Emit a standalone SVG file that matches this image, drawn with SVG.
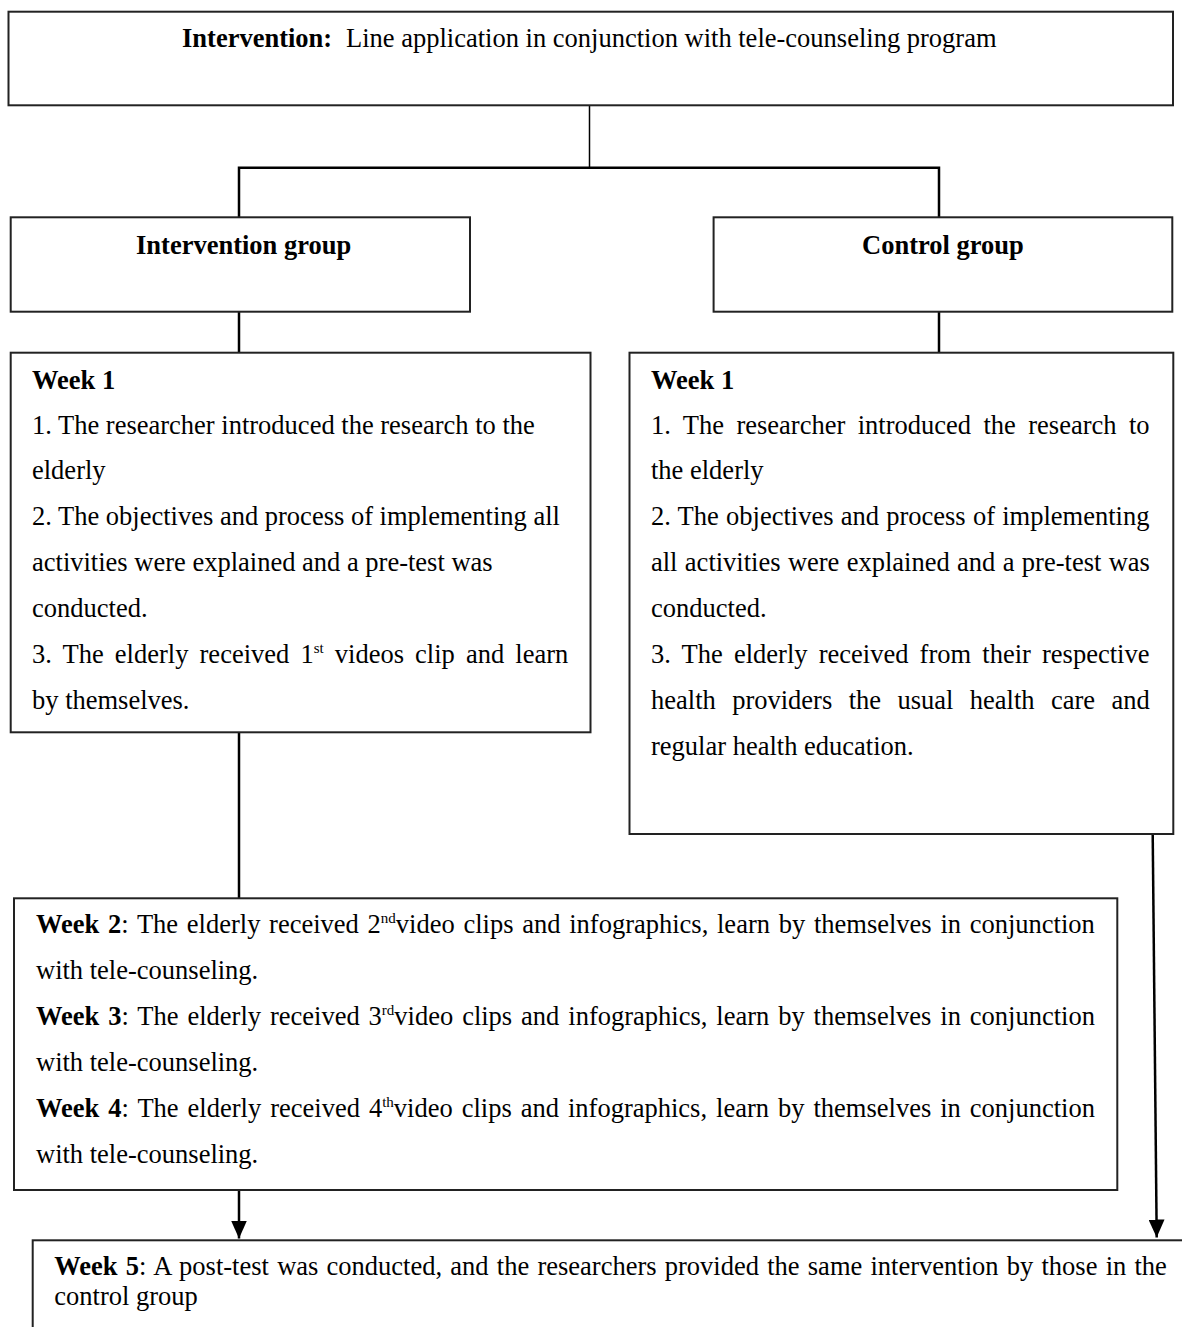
<svg xmlns="http://www.w3.org/2000/svg" width="1182" height="1327" viewBox="0 0 1182 1327">
<style>
.box{fill:#fff;stroke:#222;stroke-width:2}
.c{fill:none;stroke:#000;stroke-width:2.5}
.t{font-family:"Liberation Serif","Times New Roman",serif;font-size:26.5px;fill:#000}
.b{font-weight:bold}
.sup{font-size:15px}
</style>
<defs>
<marker id="arr" markerUnits="userSpaceOnUse" markerWidth="18" markerHeight="16" refX="18" refY="8" orient="auto">
<path d="M0,0 L18,8 L0,16 z" fill="#000"/>
</marker>
</defs>
<rect width="1182" height="1327" fill="#fff"/>

<g id="connectors">
<line x1="589.5" y1="105" x2="589.5" y2="168" class="c" style="stroke-width:1.5"/>
<polyline points="239,218 239,167.7 939,167.7 939,218" class="c"/>
<line x1="239" y1="311.7" x2="239" y2="352.7" class="c"/>
<line x1="939" y1="311.7" x2="939" y2="352.7" class="c"/>
<line x1="239" y1="732.3" x2="239" y2="898.3" class="c"/>
<line x1="239" y1="1190" x2="239" y2="1238.5" class="c" marker-end="url(#arr)"/>
<line x1="1152.7" y1="834" x2="1156.7" y2="1237.5" class="c" marker-end="url(#arr)"/>
</g>

<g id="intervention">
<rect x="8.5" y="11.7" width="1164.5" height="93.6" class="box"/>
<text class="t" y="46.7"><tspan x="182" class="b">Intervention:</tspan><tspan x="346">Line application in conjunction with tele-counseling program</tspan></text>
</g>

<g id="intervention-group">
<rect x="10.7" y="217.3" width="459.3" height="94.4" class="box"/>
<text class="t b" x="136" y="254">Intervention group</text>
</g>

<g id="control-group">
<rect x="713.6" y="217.3" width="458.7" height="94.4" class="box"/>
<text class="t b" x="862" y="254">Control group</text>
</g>

<g id="week1-intervention">
<rect x="10.7" y="352.7" width="579.8" height="379.6" class="box"/>
<text class="t b" x="32" y="389">Week 1</text>
<text class="t" x="32" y="434">1. The researcher introduced the research to the</text>
<text class="t" x="32" y="479">elderly</text>
<text class="t" x="32" y="525">2. The objectives and process of implementing all</text>
<text class="t" x="32" y="571">activities were explained and a pre-test was</text>
<text class="t" x="32" y="617">conducted.</text>
<text class="t" x="32" y="663" word-spacing="4.5">3. The elderly received 1<tspan class="sup" dy="-10">st</tspan><tspan dy="10"> videos clip and learn</tspan></text>
<text class="t" x="32" y="709">by themselves.</text>
</g>

<g id="week1-control">
<rect x="629.5" y="352.7" width="543.8" height="481.3" class="box"/>
<text class="t b" x="651" y="389">Week 1</text>
<text class="t" x="651" y="434" word-spacing="5.8">1. The researcher introduced the research to</text>
<text class="t" x="651" y="479">the elderly</text>
<text class="t" x="651" y="525" word-spacing="0.6">2. The objectives and process of implementing</text>
<text class="t" x="651" y="571" word-spacing="0.74">all activities were explained and a pre-test was</text>
<text class="t" x="651" y="617">conducted.</text>
<text class="t" x="651" y="663" word-spacing="4.55">3. The elderly received from their respective</text>
<text class="t" x="651" y="709" word-spacing="9.8">health providers the usual health care and</text>
<text class="t" x="651" y="755">regular health education.</text>
</g>

<g id="weeks2-4">
<rect x="14" y="898.3" width="1103.3" height="291.7" class="box"/>
<text class="t" x="36" y="933" word-spacing="2.1"><tspan class="b">Week 2</tspan>: The elderly received 2<tspan class="sup" dy="-10">nd</tspan><tspan dy="10">video clips and infographics, learn by themselves in conjunction</tspan></text>
<text class="t" x="36" y="979">with tele-counseling.</text>
<text class="t" x="36" y="1025" word-spacing="2.3"><tspan class="b">Week 3</tspan>: The elderly received 3<tspan class="sup" dy="-10">rd</tspan><tspan dy="10">video clips and infographics, learn by themselves in conjunction</tspan></text>
<text class="t" x="36" y="1071">with tele-counseling.</text>
<text class="t" x="36" y="1117" word-spacing="2.36"><tspan class="b">Week 4</tspan>: The elderly received 4<tspan class="sup" dy="-10">th</tspan><tspan dy="10">video clips and infographics, learn by themselves in conjunction</tspan></text>
<text class="t" x="36" y="1163">with tele-counseling.</text>
</g>

<g id="week5">
<rect x="32.7" y="1240.3" width="1200" height="200" class="box"/>
<text class="t" x="54.3" y="1275" word-spacing="1.6"><tspan class="b">Week 5</tspan>: A post-test was conducted, and the researchers provided the same intervention by those in the</text>
<text class="t" x="54.3" y="1305">control group</text>
</g>
</svg>
